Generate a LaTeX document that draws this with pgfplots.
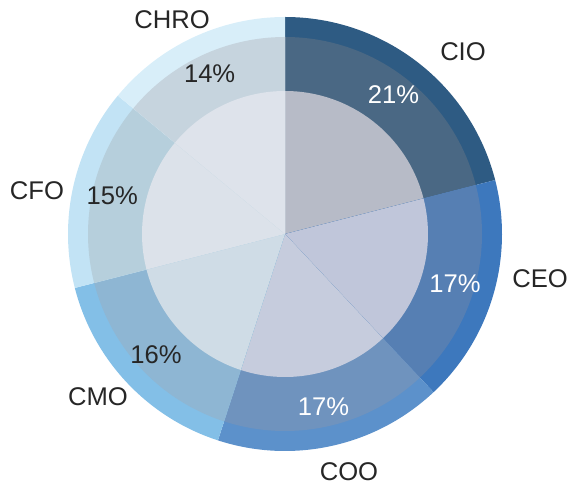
\documentclass[border=0pt]{standalone}
\usepackage{pgfplots}
\usepackage{pgfplotstable}
\pgfplotsset{compat=1.18}
\usepackage{fontspec}
\setmainfont{Liberation Sans}

% ring colours: outer band, middle band, inner disc
\definecolor{outerCIO}{HTML}{2E5B83}  \definecolor{midCIO}{HTML}{4A6884}  \definecolor{innCIO}{HTML}{B7BBC7}
\definecolor{outerCEO}{HTML}{3D78BD}  \definecolor{midCEO}{HTML}{567FB3}  \definecolor{innCEO}{HTML}{C0C6DA}
\definecolor{outerCOO}{HTML}{5C91CB}  \definecolor{midCOO}{HTML}{6F93BE}  \definecolor{innCOO}{HTML}{C6CCDD}
\definecolor{outerCMO}{HTML}{83BFE7}  \definecolor{midCMO}{HTML}{8EB6D3}  \definecolor{innCMO}{HTML}{CFDCE6}
\definecolor{outerCFO}{HTML}{C2E3F5}  \definecolor{midCFO}{HTML}{B6CFDC}  \definecolor{innCFO}{HTML}{DCE2EA}
\definecolor{outerCHRO}{HTML}{D8EEF9} \definecolor{midCHRO}{HTML}{C6D4DE} \definecolor{innCHRO}{HTML}{DEE3EB}
\definecolor{txt}{HTML}{262626}

\tikzset{lab/.style={font=\fontsize{18.5}{20}\selectfont, inner sep=0pt}}

% share in percent, colour of the percent label, centre of the name label (px, y up)
\pgfplotstableread{
name value pct  lx  ly
CIO  21    white 463 433
CEO  17    white 540 206
COO  17    white 349 13
CMO  16    txt   98  88
CFO  15    txt   37  294
CHRO 14    txt   172 465
}\sharetable

\begin{document}
\begin{tikzpicture}
\pgfplotstablegetrowsof{\sharetable}
\pgfmathtruncatemacro\nrows{\pgfplotsretval-1}
\gdef\piecmds{}
\gdef\angA{90}
\foreach \i in {0,...,\nrows}{%
  \pgfplotstablegetelem{\i}{value}\of\sharetable \let\val\pgfplotsretval
  \pgfplotstablegetelem{\i}{name}\of\sharetable \let\nm\pgfplotsretval
  \pgfplotstablegetelem{\i}{pct}\of\sharetable \let\pc\pgfplotsretval
  \pgfplotstablegetelem{\i}{lx}\of\sharetable \let\lx\pgfplotsretval
  \pgfplotstablegetelem{\i}{ly}\of\sharetable \let\ly\pgfplotsretval
  \pgfmathsetmacro\angB{\angA-3.6*\val}
  \pgfmathsetmacro\angM{(\angA+\angB)/2}
  \xdef\piecmds{\unexpanded\expandafter{\piecmds}
    \noexpand\fill[outer\nm] (axis cs:285,251) -- ++(\angA:2.17in) arc[start angle=\angA, end angle=\angB, radius=2.17in] -- cycle;
    \noexpand\fill[mid\nm] (axis cs:285,251) -- ++(\angA:1.97in) arc[start angle=\angA, end angle=\angB, radius=1.97in] -- cycle;
    \noexpand\fill[inn\nm] (axis cs:285,251) -- ++(\angA:1.43in) arc[start angle=\angA, end angle=\angB, radius=1.43in] -- cycle;
  }%
  \xdef\labcmds{\ifdefined\labcmds\unexpanded\expandafter{\labcmds}\fi
    \noexpand\path (axis cs:285,251) ++(\angM:1.77in) node[lab, text=\pc] {\val\noexpand\%};
    \noexpand\node[lab, text=txt] at (axis cs:\lx,\ly) {\nm};
  }%
  \xdef\angA{\angB}%
}
\begin{axis}[
    scale only axis,
    width=5.71in, height=4.85in,
    xmin=0, xmax=571, ymin=0, ymax=485,
    hide axis, clip=false,
]
\path (axis cs:0,0) rectangle (axis cs:571,485);
\piecmds
\labcmds
\end{axis}
\end{tikzpicture}
\end{document}
